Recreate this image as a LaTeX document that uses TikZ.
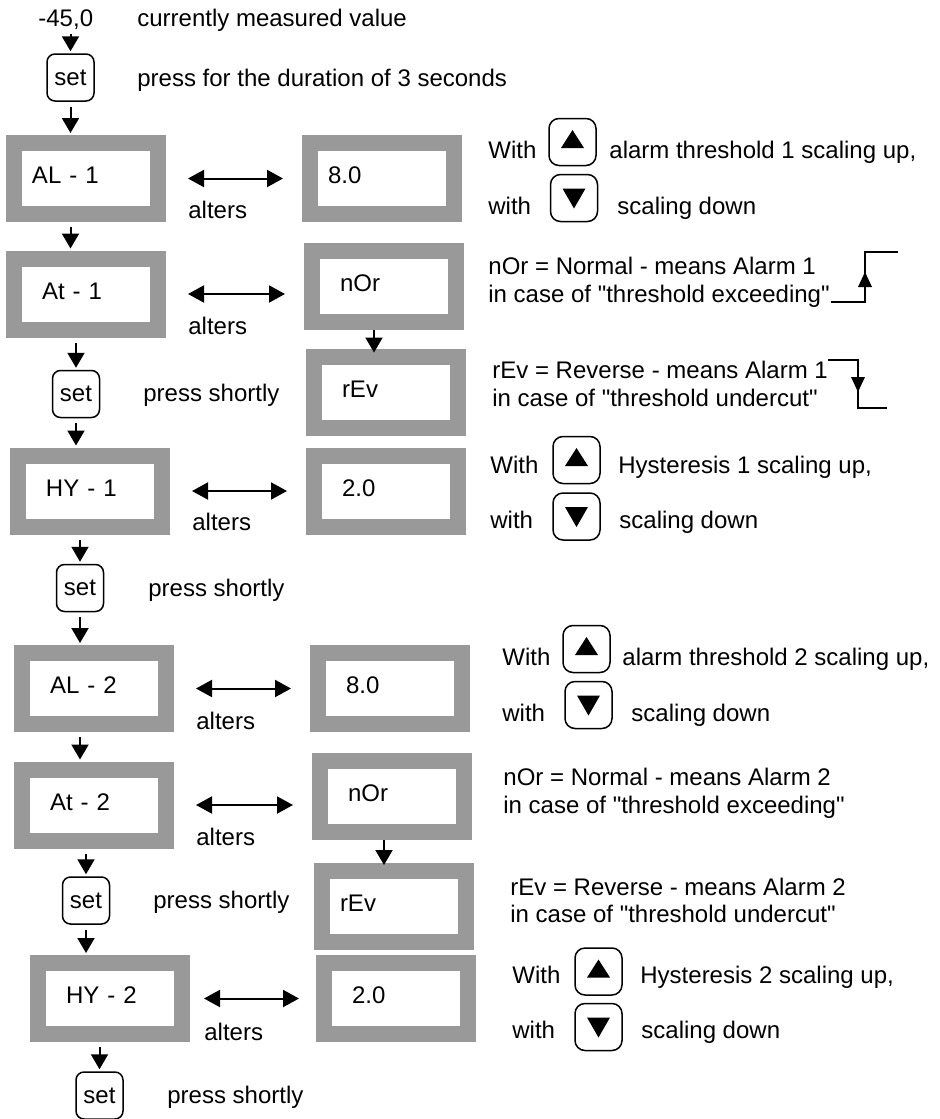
\documentclass[tikz,border=0pt]{standalone}
\usepackage{fontspec}
\setmainfont{Liberation Sans}
\usetikzlibrary{arrows.meta}
\definecolor{dispgray}{HTML}{999999}

\tikzstyle{disp}=[draw=dispgray,line width=8pt,fill=white,minimum height=35.5pt,text width=44pt,inner xsep=14pt,inner ysep=0pt,align=left,text depth=3pt]
\tikzstyle{dispw}=[disp,inner xsep=9pt,text width=54pt]
\tikzstyle{setb}=[draw,line width=0.75pt,rounded corners=4pt,minimum width=23.5pt,minimum height=23.5pt,inner sep=0pt]
\tikzstyle{keyb}=[setb,rounded corners=5pt]
\tikzstyle{upkey}=[keyb,path picture={\fill[sharp corners] ([yshift=6pt]path picture bounding box.center) -- ([shift={(-5.75pt,-3pt)}]path picture bounding box.center) -- ([shift={(5.75pt,-3pt)}]path picture bounding box.center) -- cycle;}]
\tikzstyle{downkey}=[keyb,path picture={\fill[sharp corners] ([yshift=-5.25pt]path picture bounding box.center) -- ([shift={(-5.75pt,4.75pt)}]path picture bounding box.center) -- ([shift={(5.75pt,4.75pt)}]path picture bounding box.center) -- cycle;}]
\tikzstyle{txt}=[anchor=base west,inner sep=0pt]
\tikzstyle{flow}=[-{Triangle[width=8.5pt,length=7.5pt]},line width=1pt,shorten <=2.5pt,shorten >=1pt]
\tikzstyle{altarrow}=[{Triangle[width=8.5pt,length=8pt]}-{Triangle[width=8.5pt,length=8pt]},line width=1pt,shorten <=11pt,shorten >=9.5pt]
\tikzstyle{stepline}=[line width=0.65pt]

\begin{document}
\begin{tikzpicture}[x=0.5pt,y=-0.5pt,font=\fontsize{12}{14}\selectfont]
  \useasboundingbox (0,0) rectangle (939,1119);

  \node[txt] (val) at (38,26) {-45,0};
  \node[txt] (valtxt) at (137,26) {currently measured value};
  \node[setb] (set0) at (70.5,77.5) {set};
  \node[txt] (set0txt) at (137,86) {press for the duration of 3 seconds};

  % alarm 1
  \node[dispw] (al1) at (86,178.5) {AL - 1};
  \node[dispw] (alval1) at (382,178.5) {8.0};
  \node[txt] (alters1) at (188,218) {alters};
  \node[txt] (with1) at (488,158) {With};
  \node[upkey] (up1) at (572.5,142) {};
  \node[txt] (uptxt1) at (609,158) {alarm threshold 1 scaling up,};
  \node[txt] (with2) at (488,214) {with};
  \node[downkey] (dn1) at (574,198) {};
  \node[txt] (dntxt1) at (617,214) {scaling down};

  \node[disp] (at1) at (86,294) {At - 1};
  \node[disp] (nor1) at (384,286.5) {nOr};
  \node[txt] (alters2) at (188,334) {alters};
  \node[txt] (nortxt1) at (488,274) {nOr = Normal - means Alarm 1};
  \node[txt] (nortxt2) at (488,302) {in case of \textquotedbl threshold exceeding\textquotedbl};

  \node[setb] (set1) at (76,394) {set};
  \node[txt] (set1txt) at (143,401) {press shortly};
  \node[disp] (rev1) at (386,392) {rEv};
  \node[txt] (revtxt1) at (492,378) {rEv = Reverse - means Alarm 1};
  \node[txt] (revtxt2) at (492,406) {in case of \textquotedbl threshold undercut\textquotedbl};

  \node[disp] (hy1) at (90,491) {HY - 1};
  \node[disp] (hyval1) at (386,491) {2.0};
  \node[txt] (alters3) at (192,530) {alters};
  \node[txt] (with3) at (490,473) {With};
  \node[upkey] (up3) at (576.5,460) {};
  \node[txt] (uptxt3) at (618,473) {Hysteresis 1 scaling up,};
  \node[txt] (with4) at (490,528) {with};
  \node[downkey] (dn3) at (576.5,516.5) {};
  \node[txt] (dntxt3) at (619,528) {scaling down};

  \node[setb] (set2) at (80,588) {set};
  \node[txt] (set2txt) at (148,596) {press shortly};

  % alarm 2
  \node[disp] (al2) at (94,688.5) {AL - 2};
  \node[disp] (alval2) at (390,688.5) {8.0};
  \node[txt] (alters4) at (196,729) {alters};
  \node[txt] (with5) at (502,665) {With};
  \node[upkey] (up4) at (586.5,649) {};
  \node[txt] (uptxt4) at (622,665) {alarm threshold 2 scaling up,};
  \node[txt] (with6) at (502,721) {with};
  \node[downkey] (dn4) at (588.5,705) {};
  \node[txt] (dntxt4) at (631,721) {scaling down};

  \node[disp] (at2) at (94,805) {At - 2};
  \node[disp] (nor2) at (392,796.5) {nOr};
  \node[txt] (alters5) at (196,845) {alters};
  \node[txt] (nortxt3) at (503,785) {nOr = Normal - means Alarm 2};
  \node[txt] (nortxt4) at (503,813) {in case of \textquotedbl threshold exceeding\textquotedbl};

  \node[setb] (set3) at (86,900.5) {set};
  \node[txt] (set3txt) at (153,908) {press shortly};
  \node[dispw] (rev2) at (394,906.5) {rEv};
  \node[txt] (revtxt3) at (510,895) {rEv = Reverse - means Alarm 2};
  \node[txt] (revtxt4) at (510,922) {in case of \textquotedbl threshold undercut\textquotedbl};

  \node[disp] (hy2) at (110,998.5) {HY - 2};
  \node[disp] (hyval2) at (396,998.5) {2.0};
  \node[txt] (alters6) at (204,1040) {alters};
  \node[txt] (with7) at (512,983) {With};
  \node[upkey] (up6) at (598.5,971.5) {};
  \node[txt] (uptxt6) at (640,983) {Hysteresis 2 scaling up,};
  \node[txt] (with8) at (512,1038) {with};
  \node[downkey] (dn6) at (598.5,1027) {};
  \node[txt] (dntxt6) at (641,1038) {scaling down};

  \node[setb] (set4) at (99.5,1095.5) {set};
  \node[txt] (set4txt) at (167,1103) {press shortly};

  \path (set0.north |- val.south) edge [flow] (set0.north);
  \path (set0.south) edge [flow] (set0.south |- al1.north);
  \path (set0.south |- al1.south) edge [flow] (set0.south |- at1.north);
  \path (set1.north |- at1.south) edge [flow] (set1.north);
  \path (set1.south) edge [flow] (set1.south |- hy1.north);
  \path (set2.north |- hy1.south) edge [flow] (set2.north);
  \path (set2.south) edge [flow] (set2.south |- al2.north);
  \path (set2.south |- al2.south) edge [flow] (set2.south |- at2.north);
  \path (set3.north |- at2.south) edge [flow] (set3.north);
  \path (set3.south) edge [flow] (set3.south |- hy2.north);
  \path (set4.north |- hy2.south) edge [flow] (set4.north);

  \path ([xshift=-5pt]nor1.south) edge [flow,shorten <=0pt,shorten >=-2pt] ([xshift=-5pt]nor1.south |- rev1.north);
  \path ([xshift=-4pt]nor2.south) edge [flow,shorten <=0pt,shorten >=-1pt] ([xshift=-4pt]nor2.south |- rev2.north);

  \path (al1.east) edge [altarrow] (alval1.west);
  \path (at1.east) edge [altarrow] (at1.east -| nor1.west);
  \path (hy1.east) edge [altarrow] (hyval1.west);
  \path (al2.east) edge [altarrow] (alval2.west);
  \path (at2.east) edge [altarrow] (at2.east -| nor2.west);
  \path (hy2.east) edge [altarrow,shorten <=7pt,shorten >=8.5pt] (hyval2.west);

  \draw[stepline] (831,302) -- (865,302) -- (865,252) -- (898,252);
  \fill (865,272) -- (858,287) -- (872,287) -- cycle;
  \draw[stepline] (828,360) -- (858,360) -- (858,408) -- (887,408);
  \fill (858,392) -- (851,377) -- (865,377) -- cycle;
\end{tikzpicture}
\end{document}
